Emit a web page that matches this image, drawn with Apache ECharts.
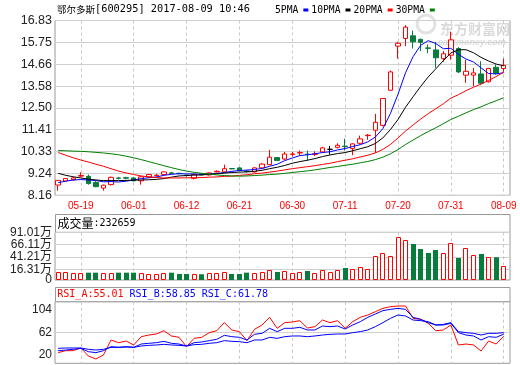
<!DOCTYPE html>
<html><head><meta charset="utf-8">
<script src="https://cdn.jsdelivr.net/npm/echarts@6/dist/echarts.min.js"></script>
<style>html,body{margin:0;padding:0;background:#fff}#c{width:520px;height:365px}</style>
</head><body><div id="c"></div>
<script>
// ---------- data ----------
const dates = ['05-16','05-17','05-18','05-19','05-22','05-23','05-24','05-25','05-26','05-31',
 '06-01','06-02','06-05','06-06','06-07','06-08','06-09','06-12','06-13','06-14',
 '06-15','06-16','06-19','06-20','06-21','06-22','06-23','06-26','06-27','06-28',
 '06-29','06-30','07-03','07-04','07-05','07-06','07-07','07-10','07-11','07-12',
 '07-13','07-14','07-17','07-18','07-19','07-20','07-21','07-24','07-25','07-26',
 '07-27','07-28','07-31','08-01','08-02','08-03','08-04','08-07','08-08','08-09'];
const xLabelIdx = [3,10,17,24,31,38,45,52,59];

const opens = [8.67,8.87,8.93,9.11,9.10,8.79,8.52,8.69,9.02,9.03, 9.02,8.88,9.07,9.14,9.19,9.27,9.25,9.16,9.00,9.20,
 9.17,9.32,9.32,9.49,9.52,9.36,9.32,9.52,9.68,10.03, 9.96,10.19,10.26,10.20,10.19,10.31,10.44,10.54,10.60,10.48,
 10.74,11.12,11.39,11.63,13.37,15.56,15.94,16.07,15.89,15.47, 15.37,14.94,15.11,15.44,14.12,14.12,14.18,13.79,14.51,14.45];
const closes = [8.90,8.99,9.02,9.14,8.74,8.59,8.66,9.05,9.00,9.01, 8.88,9.08,9.19,9.16,9.32,9.25,9.24,9.14,9.19,9.18,
 9.27,9.35,9.48,9.47,9.39,9.34,9.52,9.71,10.05,9.89, 10.21,10.21,10.28,10.18,10.21,10.51,10.44,10.64,10.58,10.71,
 10.96,11.14,11.78,12.96,14.28,15.70,16.50,15.77,15.75,15.45, 14.98,15.18,15.87,14.28,14.31,14.23,13.72,14.45,14.21,14.61];
const lows = [8.39,8.85,8.88,9.07,8.69,8.56,8.39,8.65,8.95,8.96, 8.85,8.69,9.03,9.10,9.17,9.21,9.20,9.08,8.95,9.14,
 9.14,9.30,9.28,9.45,9.36,9.30,9.29,9.49,9.65,9.86, 9.92,10.08,10.14,9.89,10.11,10.26,10.18,10.48,10.38,10.15,
 10.69,10.91,10.26,11.58,13.35,14.94,15.56,15.44,15.31,15.21, 14.48,14.78,14.89,14.23,13.74,13.57,13.62,13.75,14.15,14.28];
const highs = [8.92,9.00,9.06,9.30,9.19,8.86,8.69,9.09,9.07,9.08, 9.05,9.10,9.22,9.21,9.35,9.32,9.28,9.18,9.22,9.24,
 9.30,9.40,9.68,9.51,9.55,9.40,9.55,9.75,10.41,10.05, 10.31,10.31,10.38,10.38,10.34,10.56,10.61,10.74,10.97,10.74,
 11.12,11.20,12.20,12.98,14.35,15.77,16.60,16.33,15.94,15.64, 15.77,15.31,16.27,15.51,14.88,14.48,14.81,14.48,14.65,14.94];

const ma5 = [8.79,8.86,8.92,8.94,8.92,8.89,8.83,8.84,8.82,8.86, 8.92,8.99,9.03,9.07,9.15,9.20,9.23,9.22,9.22,9.20,
 9.21,9.24,9.29,9.35,9.39,9.41,9.44,9.49,9.60,9.70, 9.88,10.01,10.13,10.17,10.22,10.28,10.32,10.41,10.48,10.58,
 10.67,10.81,11.05,11.47,12.22,13.17,14.24,15.04,15.60,15.83, 15.69,15.43,15.45,15.15,14.92,14.77,14.48,14.20,14.18,14.24];
const ma10 = [9.25,9.15,9.08,9.02,8.96,8.92,8.89,8.89,8.89,8.90, 8.91,8.92,8.93,8.95,8.99,9.06,9.12,9.14,9.16,9.17,
 9.20,9.23,9.26,9.29,9.31,9.32,9.35,9.40,9.48,9.55, 9.64,9.75,9.83,9.90,9.98,10.08,10.16,10.23,10.28,10.37,
 10.47,10.57,10.73,11.01,11.42,11.92,12.53,13.05,13.56,14.03, 14.43,14.84,15.22,15.38,15.38,15.23,15.00,14.82,14.67,14.58];
const ma20 = [10.28,10.15,10.02,9.91,9.81,9.70,9.60,9.48,9.36,9.27, 9.19,9.12,9.07,9.04,9.02,9.02,9.02,9.03,9.03,9.04,
 9.06,9.07,9.10,9.11,9.15,9.18,9.23,9.26,9.31,9.36, 9.42,9.48,9.53,9.58,9.63,9.69,9.75,9.83,9.90,9.97,
 10.06,10.15,10.26,10.44,10.68,11.00,11.35,11.65,11.94,12.21, 12.45,12.70,12.98,13.15,13.35,13.52,13.68,13.86,14.05,14.27];
const ma30 = [10.38,10.37,10.35,10.34,10.32,10.29,10.26,10.22,10.17,10.10, 10.02,9.93,9.83,9.73,9.63,9.53,9.44,9.36,9.30,9.25,
 9.21,9.17,9.14,9.12,9.11,9.12,9.14,9.16,9.19,9.21, 9.25,9.29,9.33,9.37,9.42,9.48,9.54,9.59,9.65,9.70,
 9.77,9.84,9.93,10.05,10.22,10.43,10.68,10.90,11.12,11.32, 11.51,11.71,11.92,12.08,12.25,12.41,12.55,12.71,12.85,13.00];

// volume in 万 shares
const volumes = [10.9,10.9,8.3,8.3,9.5,9.5,8.3,8.3,9.5,9.5, 9.5,8.3,6.3,6.3,8.3,9.5,6.9,6.9,6.3,6.3,
 8.3,9.5,10.9,6.9,6.9,9.5,8.3,10.9,14.9,10.9, 12.3,8.3,10.9,12.9,8.3,14.3,10.9,14.3,19.0,16.4,
 20.4,16.4,42.6,48.7,42.6,81.0,74.9,67.4,57.3,49.3, 55.3,48.7,68.8,39.2,58.8,44.6,47.2,40.6,40.6,23.27];

const rsiA = [24.4,28.1,28.1,33.1,18.1,12.5,20.0,48.0,43.0,46.1, 38.7,54.2,57.3,59.2,65.4,55.5,53.0,35.6,51.1,53.0,
 61.7,65.4,80.4,66.7,63.6,46.8,67.9,76.0,90.3,69.8, 80.4,81.6,84.1,70.4,72.9,85.3,80.4,84.1,69.8,82.2,
 90.3,94.7,100.9,107.1,110.2,111.5,111.5,88.4,86.6,79.1, 65.4,66.7,76.0,38.7,40.5,38.7,27.5,46.1,40.5,55.01];
const rsiB = [28.1,29.3,30.6,32.4,26.2,24.4,28.1,35.6,34.3,35.6, 34.3,40.5,41.8,43.0,45.5,41.8,40.5,36.8,43.0,44.3,
 46.8,49.2,56.7,54.2,53.0,48.0,58.6,60.4,69.8,63.6, 69.8,69.8,71.6,66.7,66.7,74.1,72.9,74.1,68.5,76.0,
 82.2,90.3,96.5,102.8,105.2,107.1,105.2,90.3,86.6,80.4, 76.0,76.0,79.1,61.7,57.3,55.5,48.0,54.2,53.0,58.85];
const rsiC = [32.4,33.1,33.1,33.1,30.6,29.3,30.6,34.3,34.3,34.9, 34.3,36.8,38.0,38.7,39.9,38.7,38.0,36.8,39.3,39.9,
 41.8,43.0,46.8,45.5,44.9,43.0,48.0,48.0,53.0,51.1, 54.2,55.5,55.5,54.2,55.5,57.3,58.6,59.2,59.2,61.7,
 63.6,66.7,72.9,80.4,88.4,94.7,92.8,85.3,84.1,82.2, 76.0,77.2,80.4,63.6,61.7,60.4,57.3,60.4,60.4,61.78];

const priceTicks = ['8.16','9.24','10.33','11.41','12.50','13.58','14.66','15.75','16.83'];
const volTicks = [16.31, 41.21, 66.11, 91.01];
const rsiTicks = [20, 62, 104];
const rsiGridTicks = [62];
const maNames = ['5PMA','10PMA','20PMA','30PMA'];
const titleName = '鄂尔多斯';
const titleInfo = '[600295] 2017-08-09 10:46';
const volNow = '232659';

// ---------- styles ----------
const RED = '#ff0000', GREEN = '#087c3c', BLUE = '#0000ff';
const X_MIN = -0.42, X_MAX = 59.83;
const P_MIN = 8.16, P_MAX = 16.83, P_STEP = 1.08375;
const VOL_MIN = -5.29, VOL_MAX = 91.01;
const FRAME = '#9a9a9a', GRIDC = '#d0d0d0';
const SANS = "'Liberation Sans','Noto Sans CJK SC',sans-serif";
const MONO = "'DejaVu Sans Mono',monospace";

function xAxis(gi, showLabel) {
  return {
    type: 'value', gridIndex: gi, min: X_MIN, max: X_MAX,
    axisLine: {show: false},
    axisTick: {show: false, customValues: xLabelIdx},
    axisLabel: {show: showLabel, customValues: xLabelIdx, formatter: v => dates[Math.round(v)],
      color: RED, fontSize: 10, fontFamily: SANS, margin: 6},
    splitLine: {show: true, lineStyle: {color: '#c8c8c8', type: [3, 3], width: 1}}
  };
}

const chart = echarts.init(document.getElementById('c'), null, {width: 520, height: 365});
const option = {
  animation: false,
  backgroundColor: '#fff',
  legend: {
    data: maNames, left: 275, top: 5, padding: 0, itemGap: 3, itemWidth: 5, itemHeight: 3,
    align: 'right', icon: 'rect', selectedMode: false,
    textStyle: {fontFamily: MONO, fontSize: 9.7, color: '#000'}
  },
  grid: [
    {left: 55, right: 10, top: 20.5, height: 174.8, show: true, borderColor: FRAME, borderWidth: 1},
    {left: 55, right: 10, top: 232.3, height: 47.7, show: true, borderColor: FRAME, borderWidth: 1},
    {left: 55, right: 10, top: 301.7, height: 61.6, show: true, borderColor: FRAME, borderWidth: 1}
  ],
  xAxis: [xAxis(0, true), xAxis(1, false), xAxis(2, false)],
  yAxis: [
    {type: 'value', gridIndex: 0, min: P_MIN, max: P_MAX, interval: P_STEP,
     axisLine: {show: false}, axisTick: {show: false},
     axisLabel: {formatter: v => priceTicks[Math.round((v - P_MIN) / P_STEP)], color: '#222', fontSize: 12.5, fontFamily: SANS, margin: 3},
     splitLine: {lineStyle: {color: GRIDC, width: 1}}},
    {type: 'value', gridIndex: 1, min: VOL_MIN, max: VOL_MAX,
     axisLine: {show: false}, axisTick: {show: false, customValues: volTicks},
     axisLabel: {customValues: volTicks, showMinLabel: true, showMaxLabel: true,
       formatter: v => v.toFixed(2) + '万', color: '#222', fontSize: 12, fontFamily: SANS, margin: 3},
     splitLine: {lineStyle: {color: GRIDC, width: 1}}},
    {type: 'value', gridIndex: 2, min: 4.5, max: 119.5,
     axisLine: {show: false}, axisTick: {show: false, customValues: rsiGridTicks},
     axisLabel: {customValues: rsiTicks, formatter: v => String(v), color: '#222', fontSize: 12, fontFamily: SANS, margin: 3},
     splitLine: {lineStyle: {color: GRIDC, width: 1}}},
    // bottom "0" label of the volume panel, kept on its own axis so it is not hidden by overlap
    {type: 'value', gridIndex: 1, position: 'left', min: VOL_MIN, max: VOL_MAX,
     axisLine: {show: false}, axisTick: {show: false, customValues: [VOL_MIN]},
     axisLabel: {customValues: [VOL_MIN], showMinLabel: true, formatter: () => '0', color: '#222', fontSize: 12, fontFamily: SANS, margin: 3},
     splitLine: {show: false}}
  ],
  graphic: [
    {type: 'text', x: 440, y: 22, z: -5, style: {text: '东方财富网', font: "bold 14px 'Noto Sans CJK SC'", fill: '#dadada', verticalAlign: 'top'}},
    {type: 'text', x: 438, y: 38, z: -5, style: {text: 'eastmoney.com', font: "italic bold 9px 'Liberation Sans'", fill: '#dadada', verticalAlign: 'top'}},
    {type: 'circle', shape: {cx: 426, cy: 24, r: 9}, z: -5, style: {fill: 'none', stroke: '#e2e2e2', lineWidth: 3}},
    {type: 'rect', shape: {x: 55.5, y: 214.5, width: 454.5, height: 17.8}, style: {fill: '#fff', stroke: FRAME, lineWidth: 1}},
    {type: 'rect', shape: {x: 55.5, y: 287.5, width: 454.5, height: 14.2}, style: {fill: '#fff', stroke: FRAME, lineWidth: 1}},
    {type: 'text', x: 57, y: 9, style: {text: '{a|' + titleName + '}{b|' + titleInfo + '}', verticalAlign: 'middle',
      rich: {a: {fontSize: 9.5, fontFamily: "'Noto Sans CJK SC'", fill: '#000'}, b: {fontSize: 10.3, fontFamily: MONO, fill: '#000'}}}},
    {type: 'text', x: 57.5, y: 223.3, style: {text: '{a|成交量}{b|:' + volNow + '}', verticalAlign: 'middle',
      rich: {a: {fontSize: 12, fontFamily: "'Noto Sans CJK SC'", fill: '#000'}, b: {fontSize: 10, fontFamily: MONO, fill: '#000'}}}},
    {type: 'text', x: 57.3, y: 294.3, style: {
      text: '{r|RSI_A:' + rsiA[59].toFixed(2) + '} {b|RSI_B:' + rsiB[59].toFixed(2) + '} {b|RSI_C:' + rsiC[59].toFixed(2) + '}',
      fontSize: 10, fontFamily: MONO, verticalAlign: 'middle',
      rich: {r: {fontSize: 10, fontFamily: MONO, fill: RED}, b: {fontSize: 10, fontFamily: MONO, fill: BLUE}}}}
  ],
  series: [
    {type: 'candlestick', name: 'K', xAxisIndex: 0, yAxisIndex: 0, barWidth: 5,
     data: dates.map((d, i) => [i, opens[i], closes[i], lows[i], highs[i]]),
     itemStyle: {color: '#fff', color0: GREEN, borderColor: RED, borderColor0: GREEN, borderColorDoji: '#000', borderWidth: 1}},
    ...[[ma5, BLUE], [ma10, '#000'], [ma20, RED], [ma30, '#008000']].map((m, k) => ({
      type: 'line', name: maNames[k], xAxisIndex: 0, yAxisIndex: 0, symbol: 'none', z: 3,
      data: m[0].map((v, i) => [i, v]), lineStyle: {color: m[1], width: 1}, itemStyle: {color: m[1]}
    })),
    {type: 'custom', name: 'VOL', xAxisIndex: 1, yAxisIndex: 1,
     data: volumes.map((v, i) => [i, v, closes[i] >= opens[i] ? 1 : -1]),
     encode: {x: 0, y: 1},
     renderItem: function (params, api) {
       const i = api.value(0), v = api.value(1), up = api.value(2) > 0;
       const top = api.coord([i, v]);
       const base = api.coord([i, VOL_MIN]);
       const x0 = Math.round(top[0] - 2.5);
       if (up) {
         const y = Math.round(top[1]) + 0.5;
         return {type: 'rect', shape: {x: x0 + 0.5, y: y, width: 4, height: base[1] - y - 0.5},
           style: {fill: '#fff', stroke: RED, lineWidth: 1}};
       }
       return {type: 'rect', shape: {x: x0, y: top[1], width: 5, height: base[1] - top[1]}, style: {fill: GREEN}};
     }},
    ...[[rsiA, RED, 'RSI_A'], [rsiB, BLUE, 'RSI_B'], [rsiC, BLUE, 'RSI_C']].map(r => ({
      type: 'line', name: r[2], xAxisIndex: 2, yAxisIndex: 2, symbol: 'none',
      data: r[0].map((v, i) => [i, v]), lineStyle: {color: r[1], width: 1}, itemStyle: {color: r[1]}
    }))
  ]
};
chart.setOption(option);
</script>
</body></html>
